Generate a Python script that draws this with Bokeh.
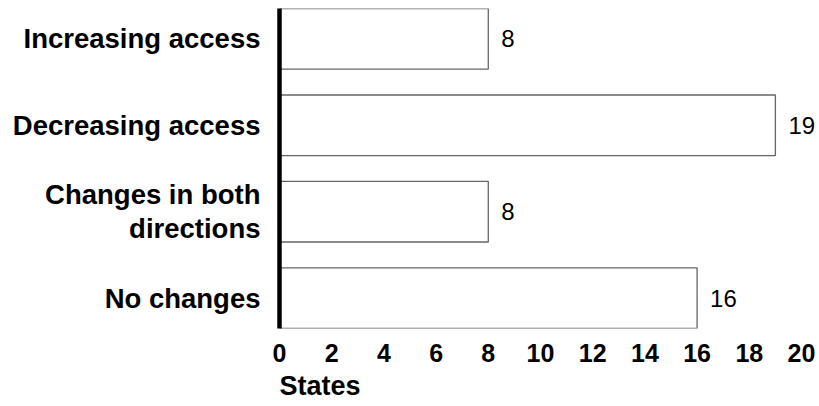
from bokeh.plotting import figure
from bokeh.models import Range1d, FixedTicker, ColumnDataSource, Title
from bokeh.core.properties import value
from bokeh.embed import file_html
from bokeh.resources import INLINE

categories = ["Increasing access", "Decreasing access", "Changes in both\ndirections", "No changes"]
counts = [8, 19, 8, 16]
x_ticks = [0, 2, 4, 6, 8, 10, 12, 14, 16, 18, 20]
x_label = "States"

FONT = "Liberation Sans"
pos = list(range(len(categories)))
src = ColumnDataSource(dict(y=pos, v=counts, t=[str(c) for c in counts]))

p = figure(width=819, height=406, output_backend="svg", toolbar_location=None,
           x_range=Range1d(0, 20.69), y_range=Range1d(3.35, -0.35),
           min_border_left=279, min_border_right=0, min_border_top=8, min_border_bottom=78)
p.outline_line_color = None
p.grid.visible = False
p.background_fill_color = "white"
p.border_fill_color = "white"

p.hbar(y="y", left=0, right="v", height=0.7, source=src,
       fill_color="white", line_color="#666666", line_width=1.3)
p.text(x="v", y="y", text="t", source=src, x_offset=13, text_baseline="middle",
       text_align="left", text_font=value(FONT), text_font_size="24px", text_color="black")

# y axis
ya = p.yaxis[0]
ya.ticker = FixedTicker(ticks=pos)
ya.major_label_overrides = {i: c for i, c in zip(pos, categories)}
ya.axis_line_width = 4.5
ya.axis_line_color = "black"
ya.major_tick_line_color = None
ya.minor_tick_line_color = None
ya.major_tick_out = 0
ya.major_label_text_font = FONT
ya.major_label_text_font_style = "bold"
ya.major_label_text_font_size = "27.5px"
ya.major_label_text_color = "black"
ya.major_label_text_line_height = 1.1
ya.major_label_standoff = 19

# x axis
xa = p.xaxis[0]
xa.ticker = FixedTicker(ticks=x_ticks)
xa.axis_line_color = None
xa.major_tick_line_color = None
xa.minor_tick_line_color = None
xa.major_tick_out = 0
xa.major_label_text_font = FONT
xa.major_label_text_font_style = "bold"
xa.major_label_text_font_size = "25px"
xa.major_label_text_color = "black"
xa.major_label_standoff = 15

# axis title, left-aligned under the x axis
p.add_layout(Title(text=x_label, align="left", standoff=8, offset=0,
                   text_font=FONT, text_font_style="bold", text_font_size="27px",
                   text_color="black"), "below")

open("out.html", "w").write(file_html(p, INLINE))
